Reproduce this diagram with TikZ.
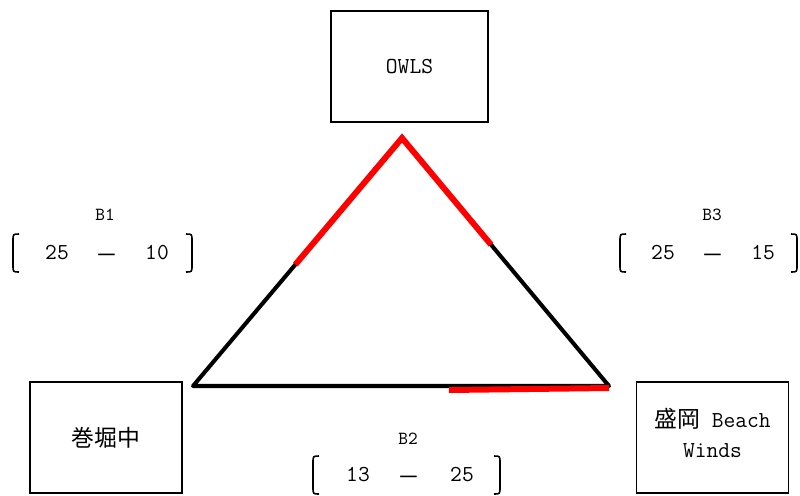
\documentclass[tikz,border=0pt]{standalone}
\usepackage{fontspec}
\setmonofont{Latin Modern Mono}
\newfontfamily\jpfont{Noto Sans CJK JP}
\usetikzlibrary{calc}

\begin{document}
\begin{tikzpicture}[
    x=0.02cm, y=-0.02cm,
    team/.style={draw, line width=0.6pt, minimum width=3.04cm, minimum height=2.22cm,
                 align=center, font=\fontsize{13}{17}\selectfont\ttfamily},
    side/.style={line width=2.3pt, line cap=round, line join=round},
    won/.style={red, line width=3.4pt},
    brace/.style={line width=0.9pt},
    score/.style={font=\fontsize{13}{15}\selectfont\ttfamily, text height=1.6ex, text depth=0.2ex},
    setname/.style={font=\fontsize{10.5}{12}\selectfont\ttfamily}
]
\useasboundingbox (0,0) rectangle (800,495);

% Teams
\node[team, minimum width=3.14cm] (owls) at (409.5,66.5) {OWLS};
\node[team] (makibori) at (106,437.5) {\jpfont 巻堀中};
\node[team, text depth=1.3ex] (morioka) at (712.5,437.5) {{\jpfont 盛岡} Beach\\Winds};

% Triangle
\coordinate (top) at (402,138);
\coordinate (bl) at (193,386);
\coordinate (br) at (609,386);
\draw[side] (top) -- (bl) -- (br) -- cycle;

% Sets won
\draw[won] ($(top)!0.51!(bl)$) -- (top) -- ($(top)!0.43!(br)$);
\draw[won] ($(bl)!0.615!(br)+(0,4)$) -- ($(br)+(0,2)$);

% B1
\begin{scope}[shift={(105,254)}]
    \node[setname] (b1) at (0,-39) {B1};
    \draw[brace] (-86,-20) .. controls (-92,-20) .. (-92,-13) -- (-92,11) .. controls (-92,18) .. (-86,18);
    \draw[brace] (81,-20) .. controls (87,-20) .. (87,-13) -- (87,11) .. controls (87,18) .. (81,18);
    \node[score] (b1l) at (-48,0) {25};
    \node[score] (b1m) at (2,4) {\jpfont －};
    \node[score] (b1r) at (52,0) {10};
\end{scope}

% B3
\begin{scope}[shift={(712,254)}]
    \node[setname] (b3) at (0,-39) {B3};
    \draw[brace] (-86,-20) .. controls (-92,-20) .. (-92,-13) -- (-92,11) .. controls (-92,18) .. (-86,18);
    \draw[brace] (79,-20) .. controls (85,-20) .. (85,-13) -- (85,11) .. controls (85,18) .. (79,18);
    \node[score] (b3l) at (-49,0) {25};
    \node[score] (b3m) at (1,4) {\jpfont －};
    \node[score] (b3r) at (51,0) {15};
\end{scope}

% B2
\begin{scope}[shift={(408,476)}]
    \node[setname] (b2) at (0,-37) {B2};
    \draw[brace] (-89,-20) .. controls (-95,-20) .. (-95,-13) -- (-95,11) .. controls (-95,18) .. (-89,18);
    \draw[brace] (86,-20) .. controls (92,-20) .. (92,-13) -- (92,11) .. controls (92,18) .. (86,18);
    \node[score] (b2l) at (-50,0) {13};
    \node[score] (b2m) at (1,4) {\jpfont －};
    \node[score] (b2r) at (54,0) {25};
\end{scope}

\end{tikzpicture}
\end{document}
